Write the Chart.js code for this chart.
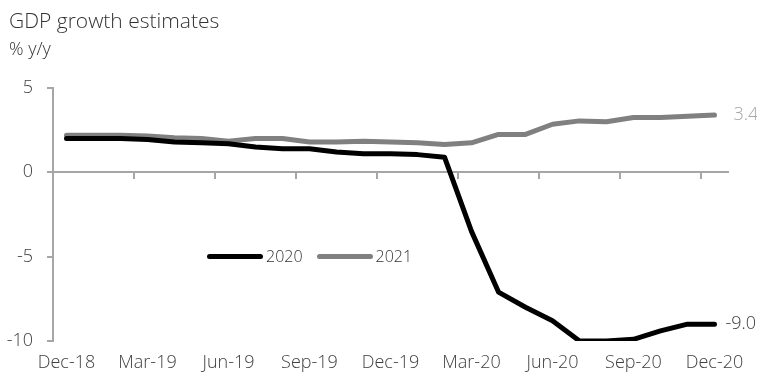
<!DOCTYPE html>
<html>
<head>
<meta charset="utf-8">
<script src="https://cdn.jsdelivr.net/npm/chart.js@4"></script>
<style>
  body { margin: 0; background: #fff; font-family: "Open Sans", sans-serif; }
  #wrap { position: relative; width: 757px; height: 378px; }
  .title { position: absolute; left: 9px; top: 6px; font-size: 21px; font-weight: 300; color: #333; line-height: 28px; }
  .sub { position: absolute; left: 9px; top: 36px; font-size: 18px; font-weight: 300; color: #333; line-height: 24px; }
  #legend { position: absolute; left: 207px; top: 245px; font-size: 16px; font-weight: 300; color: #333; display: flex; align-items: center; line-height: 22px; }
  #legend .sw { display: inline-block; width: 56px; height: 5px; border-radius: 3px; margin-right: 3px; }
  #legend .item { display: flex; align-items: center; margin-right: 14px; }
</style>
</head>
<body>
<div id="wrap">
  <canvas id="gdp_chart" width="757" height="378"></canvas>
  <div class="title">GDP growth estimates</div>
  <div class="sub">% y/y</div>
  <div id="legend"></div>
</div>
<script>
const months = [
  "Dec-18", "Jan-19", "Feb-19", "Mar-19", "Apr-19", "May-19", "Jun-19",
  "Jul-19", "Aug-19", "Sep-19", "Oct-19", "Nov-19", "Dec-19",
  "Jan-20", "Feb-20", "Mar-20", "Apr-20", "May-20", "Jun-20",
  "Jul-20", "Aug-20", "Sep-20", "Oct-20", "Nov-20", "Dec-20",
];

const est2020 = [
  2.0, 2.0, 2.0, 1.95, 1.8, 1.75, 1.7, 1.5, 1.4, 1.4, 1.2, 1.1, 1.1,
  1.05, 0.9, -3.5, -7.1, -8.0, -8.8, -10.0, -10.0, -9.9, -9.4, -9.0, -9.0,
];

const est2021 = [
  2.2, 2.2, 2.2, 2.15, 2.05, 2.0, 1.85, 2.0, 2.0, 1.8, 1.8, 1.85, 1.8,
  1.75, 1.65, 1.75, 2.25, 2.25, 2.85, 3.05, 3.0, 3.25, 3.25, 3.33, 3.4,
];

const yTicks = [5, 0, -5, -10];

// -----------------------------------------------------------------------------

const axisGrey = "#a6a6a6";
const textGrey = "#404040";
const font = { family: "'Open Sans', sans-serif", size: 18, weight: 300 };

const series = [
  { label: "2020", values: est2020, color: "#000000", endColor: textGrey, endGap: 11 },
  { label: "2021", values: est2021, color: "#808080", endColor: "#a6a6a6", endGap: 19 },
];

const legendElem = document.getElementById("legend");
series.forEach((s) => {
  const item = document.createElement("span");
  item.className = "item";
  item.innerHTML = `<span class="sw" style="background:${s.color}"></span>${s.label}`;
  legendElem.appendChild(item);
});

const endLabels = {
  id: "endLabels",
  afterDatasetsDraw(chart) {
    const ctx = chart.ctx;
    ctx.save();
    ctx.font = `300 18px 'Open Sans', sans-serif`;
    ctx.textBaseline = "middle";
    chart.data.datasets.forEach((ds, i) => {
      const pts = chart.getDatasetMeta(i).data;
      const last = pts[pts.length - 1];
      ctx.fillStyle = series[i].endColor;
      ctx.fillText(ds.data[ds.data.length - 1].toFixed(1), last.x + series[i].endGap, last.y);
    });
    ctx.restore();
  },
};

new Chart(document.getElementById("gdp_chart"), {
  type: "line",
  data: {
    labels: months,
    datasets: series.map((s) => ({
      label: s.label,
      data: s.values,
      borderColor: s.color,
      backgroundColor: s.color,
      borderWidth: 5,
      borderCapStyle: "round",
      borderJoinStyle: "round",
      pointRadius: 0,
      tension: 0,
    })),
  },
  options: {
    responsive: false,
    animation: false,
    layout: { padding: { top: 88, right: 29, bottom: 0, left: 0 } },
    plugins: {
      legend: { display: false },
      tooltip: { enabled: false },
    },
    scales: {
      x: {
        offset: true,
        afterFit: (s) => { s.height = 37; },
        grid: { display: false },
        border: { display: false },
        ticks: {
          autoSkip: false,
          maxRotation: 0,
          padding: 3,
          color: textGrey,
          font,
          callback: (v, i) => (i % 3 === 0 ? months[i] : null),
        },
      },
      x2: {
        type: "category",
        position: { y: 0 },
        offset: true,
        afterFit: (s) => { s.height = 0; },
        grid: {
          offset: true,
          drawOnChartArea: false,
          tickLength: 6,
          lineWidth: 2,
          tickColor: (ctx) => (ctx.index % 3 === 0 ? axisGrey : "rgba(0,0,0,0)"),
        },
        border: { color: axisGrey, width: 2 },
        ticks: { display: false },
      },
      y: {
        min: -10,
        max: 5,
        afterFit: (s) => { s.width = 53; },
        afterBuildTicks: (s) => { s.ticks = yTicks.map((v) => ({ value: v })); },
        grid: { drawOnChartArea: false, tickLength: 6, lineWidth: 2, tickColor: axisGrey },
        border: { color: axisGrey, width: 2 },
        ticks: { padding: 14, color: textGrey, font },
      },
    },
  },
  plugins: [endLabels],
});
</script>
</body>
</html>
